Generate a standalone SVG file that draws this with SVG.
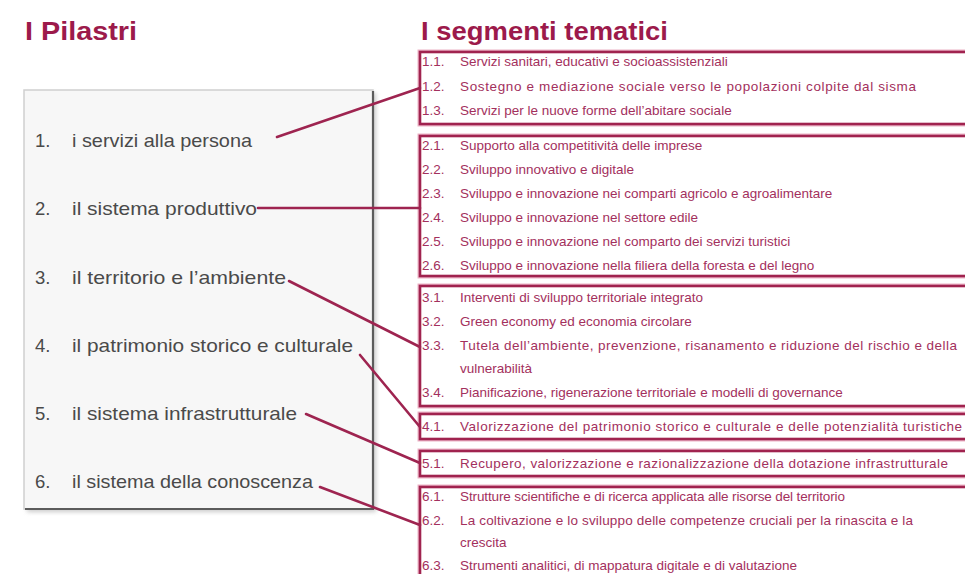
<svg xmlns="http://www.w3.org/2000/svg" width="965" height="574" viewBox="0 0 965 574">
<defs>
<style>
.title{font-family:"Liberation Sans",Arial,sans-serif;font-weight:bold;font-size:25px;fill:#9c1a4b}
.pl{font-family:"Liberation Sans",Arial,sans-serif;font-size:18.5px;fill:#4a4a4a}
.sg{font-family:"Liberation Sans",Arial,sans-serif;font-size:13.5px;fill:#a3305d}
.box{fill:#ffffff;stroke:#a0234f;stroke-width:2.6}
.halo{fill:none;stroke:#ecb3c6;stroke-width:5}
.conn{stroke:#9e2450;stroke-width:2.6;fill:none;stroke-linecap:round}
</style>
<filter id="sh" x="-5%" y="-5%" width="110%" height="110%">
<feGaussianBlur stdDeviation="2"/>
</filter>
</defs>
<rect width="965" height="574" fill="#ffffff"/>
<text class="title" x="25" y="40" textLength="112" lengthAdjust="spacingAndGlyphs">I Pilastri</text>
<text class="title" x="421" y="40" textLength="247" lengthAdjust="spacingAndGlyphs">I segmenti tematici</text>

<g id="pillars-panel">
<rect x="27" y="93" width="349" height="419" fill="#999" opacity="0.5" filter="url(#sh)"/>
<rect x="24" y="90" width="349" height="419" fill="#f7f7f7" stroke="#cfcfcf" stroke-width="1.5"/>
<path d="M373 91 V509 H25" stroke="#5c5c5c" stroke-width="2.2" fill="none"/>
</g>
<g id="pillar-1"><text class="pl" x="35" y="147">1.</text><text class="pl" x="72" y="147" textLength="180" lengthAdjust="spacingAndGlyphs">i servizi alla persona</text></g>
<g id="pillar-2"><text class="pl" x="35" y="215">2.</text><text class="pl" x="72" y="215" textLength="185" lengthAdjust="spacingAndGlyphs">il sistema produttivo</text></g>
<g id="pillar-3"><text class="pl" x="35" y="284">3.</text><text class="pl" x="72" y="284" textLength="214" lengthAdjust="spacingAndGlyphs">il territorio e l’ambiente</text></g>
<g id="pillar-4"><text class="pl" x="35" y="352">4.</text><text class="pl" x="72" y="352" textLength="281" lengthAdjust="spacingAndGlyphs">il patrimonio storico e culturale</text></g>
<g id="pillar-5"><text class="pl" x="35" y="420">5.</text><text class="pl" x="72" y="420" textLength="225" lengthAdjust="spacingAndGlyphs">il sistema infrastrutturale</text></g>
<g id="pillar-6"><text class="pl" x="35" y="488">6.</text><text class="pl" x="72" y="488" textLength="241" lengthAdjust="spacingAndGlyphs">il sistema della conoscenza</text></g>

<g id="segment-1">
<rect class="halo" x="420" y="52" width="560" height="72"/>
<rect class="box" x="420" y="52" width="560" height="72"/>
<text class="sg" x="422" y="66">1.1.</text><text class="sg" x="460" y="66">Servizi sanitari, educativi e socioassistenziali</text>
<text class="sg" x="422" y="91">1.2.</text><text class="sg" x="460" y="91" textLength="456" lengthAdjust="spacing">Sostegno e mediazione sociale verso le popolazioni colpite dal sisma</text>
<text class="sg" x="422" y="115">1.3.</text><text class="sg" x="460" y="115">Servizi per le nuove forme dell’abitare sociale</text>
</g>
<g id="segment-2">
<rect class="halo" x="420" y="136" width="560" height="140"/>
<rect class="box" x="420" y="136" width="560" height="140"/>
<text class="sg" x="422" y="150">2.1.</text><text class="sg" x="460" y="150">Supporto alla competitività delle imprese</text>
<text class="sg" x="422" y="174">2.2.</text><text class="sg" x="460" y="174">Sviluppo innovativo e digitale</text>
<text class="sg" x="422" y="198">2.3.</text><text class="sg" x="460" y="198">Sviluppo e innovazione nei comparti agricolo e agroalimentare</text>
<text class="sg" x="422" y="222">2.4.</text><text class="sg" x="460" y="222">Sviluppo e innovazione nel settore edile</text>
<text class="sg" x="422" y="246">2.5.</text><text class="sg" x="460" y="246">Sviluppo e innovazione nel comparto dei servizi turistici</text>
<text class="sg" x="422" y="270">2.6.</text><text class="sg" x="460" y="270">Sviluppo e innovazione nella filiera della foresta e del legno</text>
</g>
<g id="segment-3">
<rect class="halo" x="420" y="286" width="560" height="120"/>
<rect class="box" x="420" y="286" width="560" height="120"/>
<text class="sg" x="422" y="302">3.1.</text><text class="sg" x="460" y="302">Interventi di sviluppo territoriale integrato</text>
<text class="sg" x="422" y="326">3.2.</text><text class="sg" x="460" y="326">Green economy ed economia circolare</text>
<text class="sg" x="422" y="350">3.3.</text><text class="sg" x="460" y="350" textLength="497" lengthAdjust="spacing">Tutela dell’ambiente, prevenzione, risanamento e riduzione del rischio e della</text>
<text class="sg" x="460" y="373">vulnerabilità</text>
<text class="sg" x="422" y="397">3.4.</text><text class="sg" x="460" y="397">Pianificazione, rigenerazione territoriale e modelli di governance</text>
</g>
<g id="segment-4">
<rect class="halo" x="420" y="414" width="560" height="25"/>
<rect class="box" x="420" y="414" width="560" height="25"/>
<text class="sg" x="422" y="431">4.1.</text><text class="sg" x="460" y="431" textLength="502" lengthAdjust="spacing">Valorizzazione del patrimonio storico e culturale e delle potenzialità turistiche</text>
</g>
<g id="segment-5">
<rect class="halo" x="420" y="451" width="560" height="25"/>
<rect class="box" x="420" y="451" width="560" height="25"/>
<text class="sg" x="422" y="468">5.1.</text><text class="sg" x="460" y="468" textLength="488" lengthAdjust="spacing">Recupero, valorizzazione e razionalizzazione della dotazione infrastrutturale</text>
</g>
<g id="segment-6">
<rect class="halo" x="420" y="487" width="560" height="100"/>
<rect class="box" x="420" y="487" width="560" height="100"/>
<text class="sg" x="422" y="501">6.1.</text><text class="sg" x="460" y="501" textLength="385" lengthAdjust="spacing">Strutture scientifiche e di ricerca applicata alle risorse del territorio</text>
<text class="sg" x="422" y="525">6.2.</text><text class="sg" x="460" y="525" textLength="453" lengthAdjust="spacing">La coltivazione e lo sviluppo delle competenze cruciali per la rinascita e la</text>
<text class="sg" x="460" y="547">crescita</text>
<text class="sg" x="422" y="570">6.3.</text><text class="sg" x="460" y="570">Strumenti analitici, di mappatura digitale e di valutazione</text>
</g>

<g id="connectors">
<line class="conn" x1="277" y1="137" x2="420" y2="88"/>
<line class="conn" x1="258" y1="208" x2="420" y2="208"/>
<line class="conn" x1="289" y1="281" x2="420" y2="347"/>
<line class="conn" x1="360" y1="355" x2="420" y2="427"/>
<line class="conn" x1="306" y1="414" x2="420" y2="463"/>
<line class="conn" x1="320" y1="487" x2="420" y2="525"/>
</g>
</svg>
